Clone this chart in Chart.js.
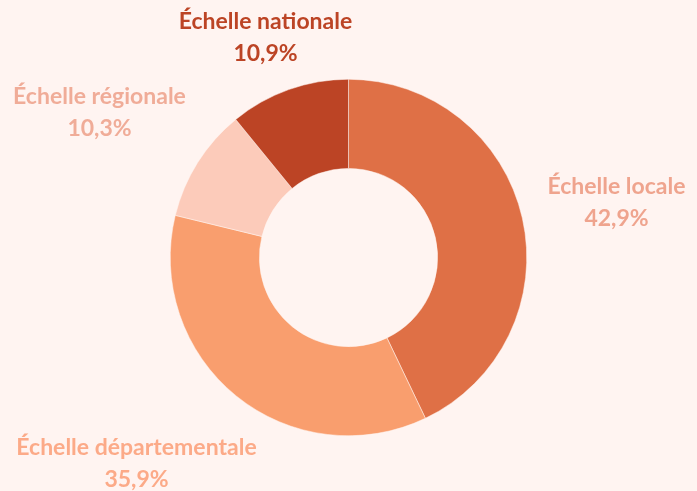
<!DOCTYPE html>
<html lang="fr">
<head>
<meta charset="utf-8">
<script src="https://cdn.jsdelivr.net/npm/chart.js@4"></script>
<style>
  html, body { margin: 0; padding: 0; background: #FFF4F1; }
  #wrap { width: 697px; height: 491px; position: relative; }
</style>
</head>
<body>
<div id="wrap"><canvas id="chart" width="697" height="491"></canvas></div>
<script>
// données
const categories = ['Échelle locale', 'Échelle départementale', 'Échelle régionale', 'Échelle nationale'];
const values = [42.9, 35.9, 10.3, 10.9];
const valueLabels = ['42,9%', '35,9%', '10,3%', '10,9%'];

const sliceColors = ['#DF7046', '#F99E6E', '#FCCBBA', '#BC4425'];
const labelColors = ['#EFA48E', '#FCAA88', '#F0AC98', '#BC4425'];
// position des étiquettes par rapport au centre du graphique
const labelOffsets = [[268, -71], [-212, 190], [-249, -161], [-83, -236]];

const labelPlugin = {
    id: 'sliceLabels',
    afterDraw(chart) {
        const ctx = chart.ctx;
        const arc = chart.getDatasetMeta(0).data[0];
        const cx = arc.x, cy = arc.y;
        ctx.save();
        ctx.font = 'bold 23px Lato, "Open Sans", sans-serif';
        ctx.textAlign = 'center';
        ctx.textBaseline = 'middle';
        categories.forEach((cat, i) => {
            const [dx, dy] = labelOffsets[i];
            ctx.fillStyle = labelColors[i];
            ctx.fillText(cat, cx + dx, cy + dy);
            ctx.fillText(valueLabels[i], cx + dx, cy + dy + 32);
        });
        ctx.restore();
    }
};

new Chart(document.getElementById('chart'), {
    type: 'doughnut',
    data: {
        labels: categories,
        datasets: [{
            data: values,
            backgroundColor: sliceColors,
            borderColor: '#FFF4F1',
            borderWidth: 0.5
        }]
    },
    options: {
        responsive: false,
        animation: false,
        cutout: '50%',
        layout: { padding: { top: 79, bottom: 55, left: 0, right: 0 } },
        plugins: { legend: { display: false }, tooltip: { enabled: false } }
    },
    plugins: [labelPlugin]
});
</script>
</body>
</html>
